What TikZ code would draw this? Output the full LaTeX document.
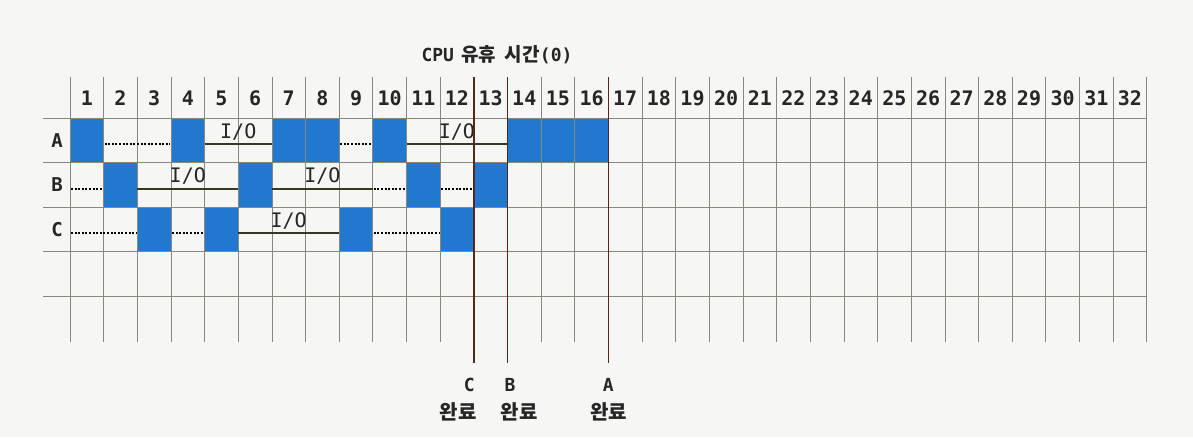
\documentclass[tikz,border=0pt]{standalone}
\usepackage{fontspec}
\newfontfamily\dmono{DejaVu Sans Mono}
\newfontfamily\kr{Noto Sans CJK KR}
\definecolor{cpublue}{RGB}{34,120,206}
\definecolor{ioline}{RGB}{55,55,35}
\definecolor{doneline}{RGB}{90,38,26}
\definecolor{gridc}{RGB}{135,135,125}
\definecolor{paper}{RGB}{246,246,244}
\begin{document}
\begin{tikzpicture}[x=1pt,y=-1pt,
  gridline/.style={gridc,line width=0.8pt},
  cpu/.style={fill=cpublue},
  iobar/.style={ioline,line width=2.2pt},
  waitbar/.style={black,line width=2.2pt,dash pattern=on 2pt off 1.6pt,shorten <=1pt,shorten >=1pt},
  donebar/.style={doneline,line width=1.5pt},
  collabel/.style={font=\dmono\bfseries\fontsize{20}{22}\selectfont,inner sep=0pt,text=black!85},
  rowlabel/.style={font=\dmono\bfseries\fontsize{19}{22}\selectfont,inner sep=0pt,text=black!85},
  iolabel/.style={font=\dmono\fontsize{20}{22}\selectfont,inner sep=0pt,anchor=base,yshift=6pt,midway,text=black!85},
  donelet/.style={font=\dmono\bfseries\fontsize{18}{20}\selectfont,inner sep=0pt,text=black!85},
  doneword/.style={font=\kr\bfseries\fontsize{20}{22}\selectfont,inner sep=0pt,text=black!85},
  titlestyle/.style={inner sep=0pt,text=black!85}
]
\def\xo{70}
\def\cw{33.65}
\def\ytop{118}
\def\rh{44.5}
\useasboundingbox (0,0) rectangle (1193,437);
\fill[paper] (0,0) rectangle (1193,437);

% CPU bursts
\foreach \i/\k/\n in {0/0/1,0/3/1,0/6/2,0/9/1,0/13/3,1/1/1,1/5/1,1/10/1,1/12/1,2/2/1,2/4/1,2/8/1,2/11/1}
  \fill[cpu] ({\xo+\k*\cw},{\ytop+\i*\rh}) rectangle ({\xo+(\k+\n)*\cw},{\ytop+(\i+1)*\rh});

% grid
\foreach \j in {0,...,4}
  \draw[gridline] (43,{\ytop+\j*\rh}) -- ({\xo+32*\cw},{\ytop+\j*\rh});
\foreach \k in {0,...,32}
  \draw[gridline] ({\xo+\k*\cw},77) -- ({\xo+\k*\cw},342);

% coordinates on row mid-lines
\foreach \r [count=\i from 0] in {A,B,C}
  \foreach \k in {0,...,32}
    \coordinate (\r\k) at ({\xo+\k*\cw},{\ytop+(\i+0.5)*\rh+4});

% column numbers
\foreach \k in {1,...,32}
  \node[collabel] (n\k) at ({\xo+(\k-0.5)*\cw},98) {\k};

% row labels
\node[rowlabel] (lA) at (57,{\ytop+0.5*\rh}) {A};
\node[rowlabel] (lB) at (57,{\ytop+1.5*\rh}) {B};
\node[rowlabel] (lC) at (57,{\ytop+2.5*\rh}) {C};

% title
\node[titlestyle] (title) at (497,55) {{\dmono\bfseries\fontsize{18}{20}\selectfont CPU}\hspace{7pt}{\kr\bfseries\fontsize{19}{20}\selectfont 유휴\hspace{9pt}시간}{\dmono\bfseries\fontsize{18}{20}\selectfont (0)}};

% process A
\draw[waitbar] (A1) -- (A3);
\draw[iobar] (A4) -- node[iolabel] (ioA1) {I/O} (A6);
\draw[waitbar] (A8) -- (A9);
\draw[iobar] (A10) -- node[iolabel] (ioA2) {I/O} (A13);
% process B
\draw[waitbar] (B0) -- (B1);
\draw[iobar] (B2) -- node[iolabel] (ioB1) {I/O} (B5);
\draw[iobar] (B6) -- node[iolabel] (ioB2) {I/O} (B9);
\draw[waitbar] (B9) -- (B10);
\draw[waitbar] (B11) -- (B12);
% process C
\draw[waitbar] (C0) -- (C2);
\draw[waitbar] (C3) -- (C4);
\draw[iobar] (C5) -- node[iolabel] (ioC1) {I/O} (C8);
\draw[waitbar] (C9) -- (C11);

% completion lines
\coordinate (Ctop) at ({\xo+12*\cw},77);
\coordinate (Cbot) at ({\xo+12*\cw},363);
\coordinate (Btop) at ({\xo+13*\cw},77);
\coordinate (Bbot) at ({\xo+13*\cw},363);
\coordinate (Atop) at ({\xo+16*\cw},77);
\coordinate (Abot) at ({\xo+16*\cw},363);
\draw[donebar] (Ctop) -- (Cbot);
\draw[donebar] (Btop) -- (Bbot);
\draw[donebar] (Atop) -- (Abot);

\node[donelet,anchor=east] (dC) at ({\xo+12*\cw+1},385) {C};
\node[doneword,anchor=east] (wC) at ({\xo+12*\cw+3},412) {완료};
\node[donelet,anchor=west] (dB) at ({\xo+13*\cw-3},385) {B};
\node[doneword,anchor=west] (wB) at ({\xo+13*\cw-7},412) {완료};
\node[donelet] (dA) at ({\xo+16*\cw},385) {A};
\node[doneword] (wA) at ({\xo+16*\cw},412) {완료};
\end{tikzpicture}
\end{document}
